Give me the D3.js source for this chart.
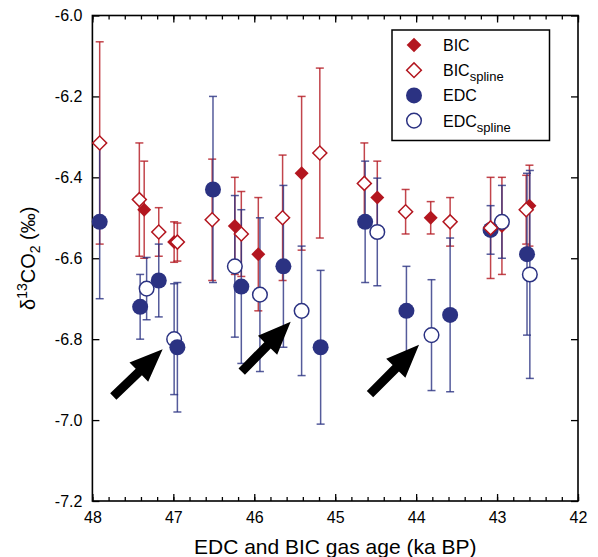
<!DOCTYPE html>
<html>
<head>
<meta charset="utf-8">
<script src="https://cdn.jsdelivr.net/npm/d3@7"></script>
<style>
  body { margin: 0; background: #fff; }
  svg { display: block; font-family: "Liberation Sans", Arial, Helvetica, sans-serif; }
</style>
</head>
<body>
<svg width="598" height="557"></svg>
<script>
// BIC (filled diamonds)
var bicAge = [47.36, 46.99, 46.24, 45.95, 45.415, 44.48, 43.82, 42.94, 42.60],
    bicVal = [-6.48, -6.56, -6.52, -6.59, -6.39, -6.45, -6.50, -6.52, -6.47],
    bicErr = [0.12, 0.05, 0.12, 0.14, 0.19, 0.09, 0.04, 0.12, 0.10];

// BIC spline (open diamonds)
var bicSplAge = [47.91, 47.42, 47.18, 46.95, 46.52, 46.16, 45.65, 45.19, 44.64, 44.13, 43.58, 43.08, 42.64],
    bicSplVal = [-6.315, -6.455, -6.535, -6.56, -6.505, -6.54, -6.50, -6.34, -6.415, -6.485, -6.51, -6.525, -6.48],
    bicSplErr = [0.25, 0.14, 0.06, 0.047, 0.15, 0.105, 0.155, 0.21, 0.10, 0.055, 0.06, 0.125, 0.085];

// EDC (filled circles)
var edcAge = [47.91, 47.41, 47.18, 46.95, 46.51, 46.16, 45.64, 45.18, 44.63, 44.12, 43.58, 43.08, 42.63],
    edcVal = [-6.51, -6.72, -6.655, -6.82, -6.43, -6.67, -6.62, -6.82, -6.51, -6.73, -6.74, -6.53, -6.59],
    edcErr = [0.19, 0.08, 0.09, 0.16, 0.23, 0.19, 0.20, 0.19, 0.15, 0.11, 0.19, 0.06, 0.20];

// EDC spline (open circles)
var edcSplAge = [47.33, 46.99, 46.24, 45.93, 45.415, 44.48, 43.81, 42.94, 42.595],
    edcSplVal = [-6.675, -6.80, -6.62, -6.69, -6.73, -6.535, -6.79, -6.51, -6.64],
    edcSplErr = [0.077, 0.137, 0.175, 0.19, 0.16, 0.133, 0.137, 0.09, 0.257];

// arrows (tail -> tip, data coords)
var arrowTail = [[47.742, -6.942], [46.155, -6.880], [44.57, -6.936]],
    arrowTip = [[47.132, -6.825], [45.55, -6.757], [43.964, -6.814]];

var xTicks = [48, 47, 46, 45, 44, 43, 42],
    yTicks = [-7.2, -7.0, -6.8, -6.6, -6.4, -6.2, -6.0];

var red = "#b3161f", blue = "#2b3282";

var svg = d3.select("svg"),
    mLeft = 92.4, mRight = 578, mTop = 15.5, mBottom = 501;

var x = d3.scaleLinear().domain([48, 42]).range([mLeft, mRight]),
    y = d3.scaleLinear().domain([-7.2, -6.0]).range([mBottom, mTop]);

function zip(ax, vals, errs) {
  return ax.map(function(a, i) { return {x: a, y: vals[i], e: errs[i]}; });
}

var bic = zip(bicAge, bicVal, bicErr),
    bicSpl = zip(bicSplAge, bicSplVal, bicSplErr),
    edc = zip(edcAge, edcVal, edcErr),
    edcSpl = zip(edcSplAge, edcSplVal, edcSplErr);

// axes
var minor = d3.range(48, 41.99, -0.2);
var fmtY = function(d) { return d.toFixed(1); };

svg.append("g").attr("transform", "translate(0," + mBottom + ")")
    .call(d3.axisBottom(x).tickValues(xTicks).tickSize(-7).tickSizeOuter(0).tickPadding(11).tickFormat(d3.format("d")));
svg.append("g").attr("transform", "translate(0," + mBottom + ")")
    .call(d3.axisBottom(x).tickValues(minor).tickSize(-4).tickSizeOuter(0).tickFormat(""));
svg.append("g").attr("transform", "translate(0," + mTop + ")")
    .call(d3.axisTop(x).tickValues(xTicks).tickSize(-7).tickSizeOuter(0).tickFormat(""));
svg.append("g").attr("transform", "translate(0," + mTop + ")")
    .call(d3.axisTop(x).tickValues(minor).tickSize(-4).tickSizeOuter(0).tickFormat(""));
svg.append("g").attr("transform", "translate(" + mLeft + ",0)")
    .call(d3.axisLeft(y).tickValues(yTicks).tickSize(-7).tickSizeOuter(0).tickPadding(10).tickFormat(fmtY));
svg.append("g").attr("transform", "translate(" + mRight + ",0)")
    .call(d3.axisRight(y).tickValues(yTicks).tickSize(-7).tickSizeOuter(0).tickFormat(""));

svg.selectAll(".domain").remove();
svg.selectAll(".tick line").attr("stroke", "#000").attr("stroke-width", 1.3);
svg.selectAll(".tick text").attr("font-size", 16).attr("fill", "#000")
    .attr("font-family", "'Liberation Sans', Arial, sans-serif");

svg.append("rect")
    .attr("x", mLeft).attr("y", mTop)
    .attr("width", mRight - mLeft).attr("height", mBottom - mTop)
    .attr("fill", "none").attr("stroke", "#000").attr("stroke-width", 1.6);

// error bars
function errBars(data, color) {
  var g = svg.append("g").attr("stroke", color).attr("stroke-width", 1.5).attr("stroke-opacity", 0.8);
  data.forEach(function(d) {
    var cx = x(d.x), y0 = y(d.y - d.e), y1 = y(d.y + d.e);
    g.append("line").attr("x1", cx).attr("x2", cx).attr("y1", y0).attr("y2", y1);
    g.append("line").attr("x1", cx - 4).attr("x2", cx + 4).attr("y1", y0).attr("y2", y0);
    g.append("line").attr("x1", cx - 4).attr("x2", cx + 4).attr("y1", y1).attr("y2", y1);
  });
}
errBars(bicSpl, red);
errBars(bic, red);
errBars(edc, blue);
errBars(edcSpl, blue);

var diamond = d3.symbol().type(d3.symbolSquare).size(98);

function diamonds(data, filled) {
  svg.append("g").selectAll("path").data(data).join("path")
      .attr("d", diamond)
      .attr("transform", function(d) { return "translate(" + x(d.x) + "," + y(d.y) + ") rotate(45)"; })
      .attr("fill", filled ? red : "#fff")
      .attr("stroke", red).attr("stroke-width", filled ? 0 : 1.5);
}
function circles(data, filled) {
  svg.append("g").selectAll("circle").data(data).join("circle")
      .attr("cx", function(d) { return x(d.x); })
      .attr("cy", function(d) { return y(d.y); })
      .attr("r", filled ? 8 : 7.3)
      .attr("fill", filled ? blue : "#fff")
      .attr("stroke", blue).attr("stroke-width", filled ? 0 : 1.5);
}
diamonds(bic, true);
circles(edcSpl, false);
circles(edc, true);
diamonds(bicSpl, false);

// arrows
arrowTail.forEach(function(t, i) {
  var p = arrowTip[i],
      tx = x(t[0]), ty = y(t[1]), px = x(p[0]), py = y(p[1]),
      len = Math.hypot(px - tx, py - ty),
      ux = (px - tx) / len, uy = (py - ty) / len,
      nx = -uy, ny = ux,
      hl = 33, hh = 13.5, sh = 4.5,
      bx = px - ux * hl, by = py - uy * hl;
  var pts = [
    [tx + nx * sh, ty + ny * sh], [bx + nx * sh, by + ny * sh], [bx + nx * hh, by + ny * hh],
    [px, py],
    [bx - nx * hh, by - ny * hh], [bx - nx * sh, by - ny * sh], [tx - nx * sh, ty - ny * sh]
  ];
  svg.append("polygon").attr("points", pts.map(function(q) { return q.join(","); }).join(" "))
      .attr("fill", "#000");
});

// legend
var lg = svg.append("g");
lg.append("rect").attr("x", 392).attr("y", 30).attr("width", 157.5).attr("height", 110.5)
    .attr("fill", "#fff").attr("stroke", "#000").attr("stroke-width", 1.5);
var legendItems = [
  {label: "BIC", sub: "", shape: "d", filled: true},
  {label: "BIC", sub: "spline", shape: "d", filled: false},
  {label: "EDC", sub: "", shape: "c", filled: true},
  {label: "EDC", sub: "spline", shape: "c", filled: false}
];
legendItems.forEach(function(it, i) {
  var ly = 45 + i * 25.2;
  if (it.shape === "d") {
    lg.append("path").attr("d", d3.symbol().type(d3.symbolSquare).size(108))
        .attr("transform", "translate(414," + ly + ") rotate(45)")
        .attr("fill", it.filled ? red : "#fff").attr("stroke", red).attr("stroke-width", it.filled ? 0 : 1.5);
  } else {
    lg.append("circle").attr("cx", 414).attr("cy", ly).attr("r", it.filled ? 8 : 7.3)
        .attr("fill", it.filled ? blue : "#fff").attr("stroke", blue).attr("stroke-width", it.filled ? 0 : 1.5);
  }
  var t = lg.append("text").attr("x", 443).attr("y", ly + 6).attr("font-size", 16);
  t.append("tspan").text(it.label);
  if (it.sub) t.append("tspan").attr("font-size", 13).attr("dy", 5).text(it.sub);
});

// axis titles
svg.append("text").attr("x", (mLeft + mRight) / 2).attr("y", 554)
    .attr("text-anchor", "middle").attr("font-size", 21)
    .text("EDC and BIC gas age (ka BP)");

var yt = svg.append("text")
    .attr("transform", "translate(35," + (mTop + mBottom) / 2 + ") rotate(-90)")
    .attr("text-anchor", "middle").attr("font-size", 20);
yt.append("tspan").text("δ");
yt.append("tspan").attr("font-size", 14).attr("dy", -8).text("13");
yt.append("tspan").attr("dy", 8).text("CO");
yt.append("tspan").attr("font-size", 14).attr("dy", 5).text("2");
yt.append("tspan").attr("dy", -5).text(" (‰)");
</script>
</body>
</html>
